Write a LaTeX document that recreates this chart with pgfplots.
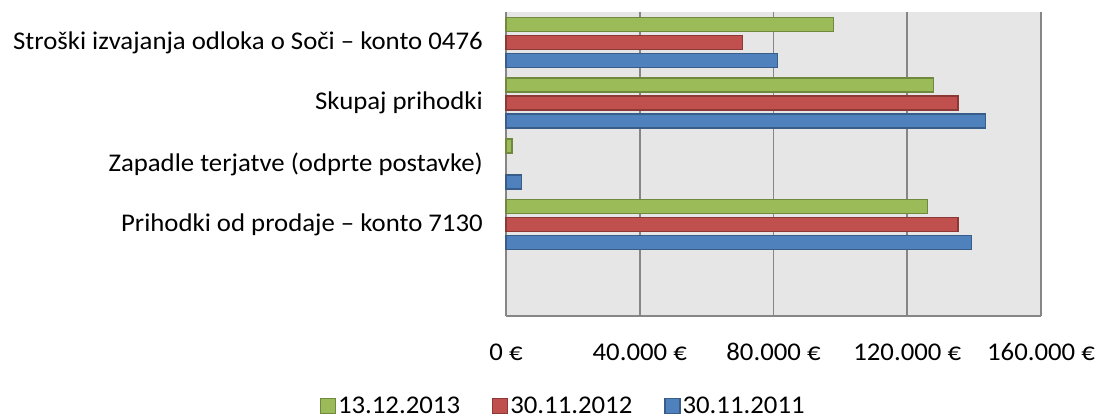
\documentclass[border=0pt]{standalone}
\usepackage{pgfplots}
\pgfplotsset{compat=1.18}
\usepackage{fontspec}
\setmainfont{Carlito}[FakeStretch=1.05]
\definecolor{cgreen}{HTML}{9BBB59}
\definecolor{cgreenD}{HTML}{71893F}
\definecolor{cred}{HTML}{C0504D}
\definecolor{credD}{HTML}{8C3836}
\definecolor{cblue}{HTML}{4F81BD}
\definecolor{cblueD}{HTML}{385D8A}
\definecolor{bg}{HTML}{E6E6E6}
\definecolor{gridc}{HTML}{868686}
\begin{document}
\begin{tikzpicture}[font=\fontsize{25.5}{30}\selectfont]
\begin{axis}[
  at={(0,0)}, anchor=south west,
  scale only axis, width=535pt, height=304pt,
  xbar, bar width=14pt,
  xmin=0, xmax=160000, ymin=-0.5, ymax=4.5,
  scaled x ticks=false,
  xtick={0,40000,80000,120000,160000},
  xticklabels={0 €,40.000 €,80.000 €,120.000 €,160.000 €},
  ytick={1,2,3,4},
  yticklabels={Prihodki od prodaje – konto 7130,Zapadle terjatve (odprte postavke),Skupaj prihodki,Stroški izvajanja odloka o Soči – konto 0476},
  major tick length=0pt,
  xticklabel style={anchor=center, yshift=-36pt, inner sep=0pt},
  yticklabel style={anchor=east, inner sep=0pt, xshift=-23pt},
  xmajorgrids, grid style={gridc, line width=1.6pt},
  axis line style={gridc, line width=1.6pt},
  axis x line*=bottom, axis y line*=left,
  axis background/.style={fill=bg},
  reverse legend,
  legend columns=3,
  legend style={at={(0.107,-0.296)}, anchor=center, draw=none, fill=none,
    /tikz/every even column/.append style={column sep=30pt},
    nodes={inner sep=2pt}},
  legend image code/.code={\draw[#1,line width=1.2pt] (0pt,-7.5pt) rectangle (15pt,7.5pt);},
  clip=false,
]
\addplot[fill=cblue, draw=cblueD, line width=1.4pt, bar shift=-18pt] coordinates {(139200,1) (4600,2) (143400,3) (81200,4)};
\addplot[fill=cred, draw=credD, line width=1.4pt, bar shift=0pt] coordinates {(135200,1) (135200,3) (70700,4)};
\addplot[fill=cgreen, draw=cgreenD, line width=1.4pt, bar shift=18pt] coordinates {(126000,1) (1800,2) (127900,3) (98000,4)};
\legend{30.11.2011,30.11.2012,13.12.2013}
\end{axis}
\pgfresetboundingbox
\path (-506pt,-103pt) rectangle (593pt,316pt);
\end{tikzpicture}
\end{document}
